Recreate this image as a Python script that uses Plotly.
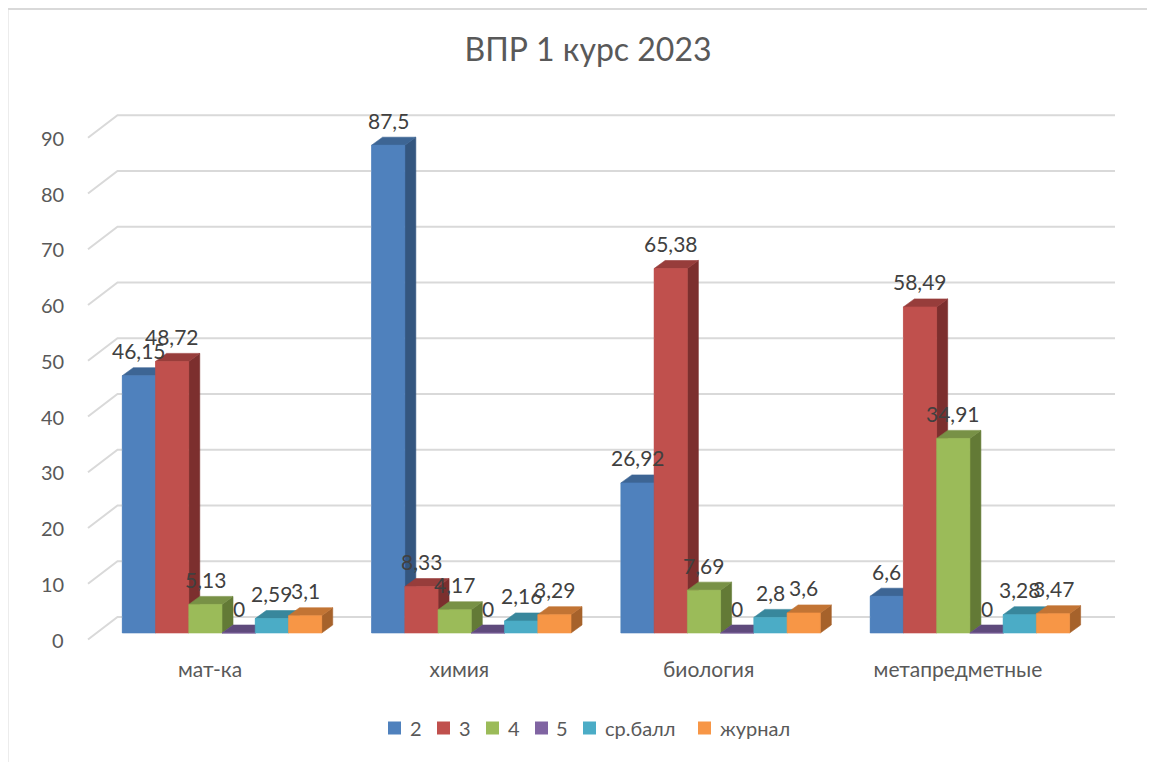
import plotly.graph_objects as go

# ---------------- data ----------------
categories = ["мат-ка", "химия", "биология", "метапредметные"]
series_names = ["2", "3", "4", "5", "ср.балл", "журнал"]
vals_2 = [46.15, 87.5, 26.92, 6.6]
vals_3 = [48.72, 8.33, 65.38, 58.49]
vals_4 = [5.13, 4.17, 7.69, 34.91]
vals_5 = [0, 0, 0, 0]
vals_avg = [2.59, 2.16, 2.8, 3.28]
vals_journal = [3.1, 3.29, 3.6, 3.47]
y_ticks = [0, 10, 20, 30, 40, 50, 60, 70, 80, 90]
title_text = "ВПР 1 курс 2023"

series_values = [vals_2, vals_3, vals_4, vals_5, vals_avg, vals_journal]

# ---------------- style ----------------
front_colors = ["#4F81BD", "#C0504D", "#9BBB59", "#8064A2", "#4BACC6", "#F79646"]
top_colors = ["#3D6594", "#973D3B", "#789146", "#5F4A7C", "#38879C", "#C27434"]
side_colors = ["#34567F", "#7C2F2E", "#637A36", "#4E3C66", "#2F7183", "#A6622B"]

FONT = "Lato, 'Open Sans', sans-serif"
TXT = "#595959"
LBL = "#404040"
GRID = "#D9D9D9"

OFF = 8                       # page body margin (figure sits at 8,8)
W, H = 1155 - OFF, 762 - OFF  # figure size
# plot area in page pixels
PL, PR, PT, PB = 80, 1125, 100, 655
ML, MR, MT, MB = PL - OFF, OFF + W - PR, PT - OFF, OFF + H - PB
PLOT_W = PR - PL
PLOT_H = PB - PT

PX_CAT = 249.3          # pixels per category unit
PX_VAL = 5.575          # pixels per value unit
CAT0_PX = 222.0         # page pixel of first category center (bar front)
ZERO_PX = 633.0         # page pixel of value 0 (bar front)


def ux(px):
    return (px - CAT0_PX) / PX_CAT


def vy(px):
    return (ZERO_PX - px) / PX_VAL


def paper_x(px):
    return (px - PL) / PLOT_W


def paper_y(py):
    return (PB - py) / PLOT_H


x_range = [ux(PL), ux(PR)]
y_range = [vy(PB), vy(PT)]

# depth offsets (data units)
BAR_DX = 11 / PX_CAT
BAR_DY = 8 / PX_VAL
FLOOR_DY = 6.5 / PX_VAL      # front edge of floor below bar front
BACK_DY = 16 / PX_VAL        # back wall above bar front
FLOOR_LEFT = ux(88)
BACK_LEFT = ux(117.5)
BACK_RIGHT = ux(1115)

n = len(series_names)
group_w = 0.8
bw = group_w / n

fig = go.Figure()

# base bars (covered by 3D faces)
for j, name in enumerate(series_names):
    fig.add_trace(go.Bar(
        x=list(range(len(categories))), y=series_values[j], name=name,
        marker=dict(color=front_colors[j], line=dict(width=0)),
        hoverinfo="skip", showlegend=False,
    ))

# gridlines (3D: left wall + back wall)
for t in y_ticks:
    fig.add_trace(go.Scatter(
        x=[FLOOR_LEFT, BACK_LEFT, BACK_RIGHT],
        y=[t - FLOOR_DY, t + BACK_DY, t + BACK_DY],
        mode="lines", line=dict(color=GRID, width=2),
        showlegend=False, hoverinfo="skip",
    ))

# 3D faces, painter's order left -> right
for j in range(n):
    vals = series_values[j]
    sx, sy, tx, ty, fx, fy = [], [], [], [], [], []
    for i, v in enumerate(vals):
        x0 = i - group_w / 2 + j * bw
        x1 = x0 + bw
        sx += [x1, x1 + BAR_DX, x1 + BAR_DX, x1, x1, None]
        sy += [0, BAR_DY, v + BAR_DY, v, 0, None]
        tx += [x0, x1, x1 + BAR_DX, x0 + BAR_DX, x0, None]
        ty += [v, v, v + BAR_DY, v + BAR_DY, v, None]
        fx += [x0, x1, x1, x0, x0, None]
        fy += [0, 0, v, v, 0, None]
    for xs, ys, col in ((sx, sy, side_colors[j]), (tx, ty, top_colors[j]), (fx, fy, front_colors[j])):
        fig.add_trace(go.Scatter(
            x=xs, y=ys, mode="lines", fill="toself", fillcolor=col,
            line=dict(color=col, width=0.6), showlegend=False, hoverinfo="skip",
        ))

annotations = []
# data labels
for j in range(n):
    for i, v in enumerate(series_values[j]):
        xc = i - group_w / 2 + (j + 0.5) * bw
        annotations.append(dict(
            x=xc, y=v, xref="x", yref="y", text=f"{v:g}".replace(".", ","),
            showarrow=False, yshift=25, xanchor="center", yanchor="middle",
            font=dict(family=FONT, size=21, color=LBL),
        ))

# value axis labels (at the floor's front edge)
for t in y_ticks:
    annotations.append(dict(
        x=paper_x(66), xref="paper", y=t - FLOOR_DY, yref="y", text=str(t),
        showarrow=False, xanchor="right", yanchor="middle",
        font=dict(family=FONT, size=20, color=TXT),
    ))

# legend (Excel-style: small squares, tight spacing)
legend_sq_x = [388, 437, 486, 535, 583, 698]
legend_txt_x = [408, 457, 506, 554, 603, 718]
LEG_Y = 728
shapes = []
for j, name in enumerate(series_names):
    shapes.append(dict(
        type="rect", xref="paper", yref="paper",
        x0=paper_x(legend_sq_x[j]), x1=paper_x(legend_sq_x[j] + 13),
        y0=paper_y(LEG_Y + 6.5), y1=paper_y(LEG_Y - 6.5),
        fillcolor=front_colors[j], line=dict(width=0),
    ))
    annotations.append(dict(
        x=paper_x(legend_txt_x[j]), xref="paper", y=paper_y(LEG_Y), yref="paper",
        text=name, showarrow=False, xanchor="left", yanchor="middle",
        font=dict(family=FONT, size=20, color=TXT),
    ))

# chart border (outer frame)
shapes.append(dict(
    type="rect", xref="paper", yref="paper",
    x0=paper_x(7.5), x1=paper_x(1170),
    y0=paper_y(780), y1=paper_y(9),
    line=dict(color=GRID, width=2), fillcolor="rgba(0,0,0,0)", layer="below",
))

fig.update_layout(
    width=W, height=H,
    margin=dict(l=ML, r=MR, t=MT, b=MB, pad=0),
    paper_bgcolor="white", plot_bgcolor="white",
    barmode="group", bargap=0.2, bargroupgap=0,
    title=dict(text=title_text, x=(588 - OFF) / W, xanchor="center",
               y=1 - (50 - OFF) / H, yanchor="middle",
               xref="container", yref="container",
               font=dict(family=FONT, size=32, color=TXT)),
    xaxis=dict(range=x_range, showgrid=False, zeroline=False, showline=False,
               tickvals=[i - 0.048 for i in range(len(categories))], ticktext=categories,
               ticks="", tickfont=dict(family=FONT, size=21, color=TXT), fixedrange=True),
    yaxis=dict(range=y_range, showgrid=False, zeroline=False, showline=False,
               showticklabels=False, ticks="", fixedrange=True),
    annotations=annotations,
    shapes=shapes,
    showlegend=False,
)

fig.write_html("out.html")
